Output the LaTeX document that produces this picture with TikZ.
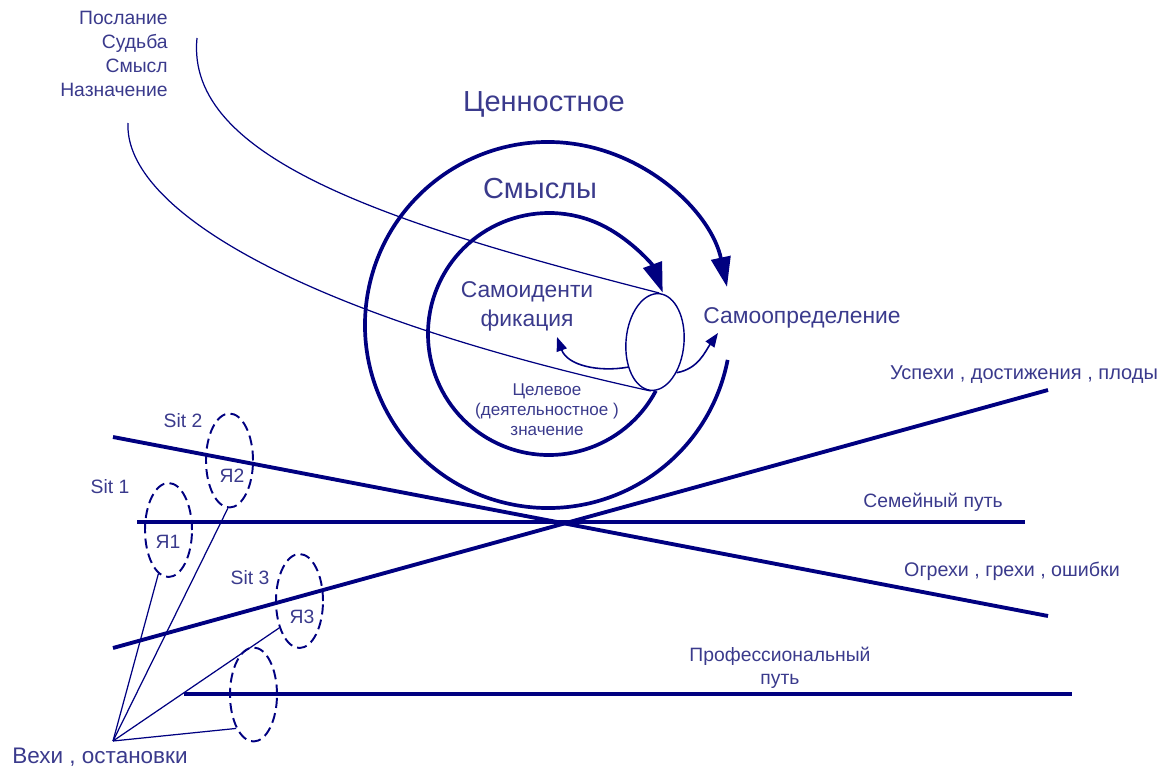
\documentclass[tikz,border=0pt]{standalone}
\usepackage{fontspec}
\setmainfont{Liberation Sans}
\usetikzlibrary{positioning,calc,arrows.meta,shapes.geometric}
\definecolor{pathblue}{RGB}{0,0,128}
\definecolor{inkblue}{RGB}{58,58,140}
\tikzset{
    every node/.style={font=\fontsize{11}{13.6}\selectfont, text=inkblue, inner sep=0pt},
    ring/.style={draw=pathblue, line width=2.1pt},
    pathline/.style={draw=pathblue, line width=2.2pt},
    thinline/.style={draw=pathblue, line width=0.7pt},
    sitcycle/.style={draw=pathblue, ellipse, dash pattern=on 5.7pt off 3pt, line width=1.1pt, minimum width=0.94cm, minimum height=1.88cm},
    bigarrow/.style={-{Triangle[length=17pt, width=11pt]}},
    smallarrow/.style={-{Triangle[length=8pt, width=6pt]}, draw=pathblue, line width=0.9pt},
}

\begin{document}
\begin{tikzpicture}[x=0.02cm, y=0.02cm]
   \useasboundingbox (0,0) rectangle (1173,769);
% two rings, both open on the right
   \coordinate (cO) at (548,444);
   \coordinate (cI) at (549,435);
   \draw[ring, bigarrow] ([shift={(-11:183)}]cO) arc[start angle=-11, end angle=-348, radius=183];
   \draw[ring, bigarrow] ([shift={(-28:121)}]cI) arc[start angle=-28, end angle=-340, radius=121];
   \node[font=\fontsize{16.5}{19}\selectfont] (value) at (544,665) {Ценностное};
   \node[font=\fontsize{16.5}{19}\selectfont] (sense) at (540,580) {Смыслы};
   \node[font=\fontsize{13}{16.4}\selectfont, align=center] (ident) at (527,463) {Самоиденти\\фикация};
   \node[font=\fontsize{13}{16}\selectfont] (determ) at (802,451) {Самоопределение};
   \node[font=\fontsize{9.7}{11.3}\selectfont, align=center] (goal) at (547,359) {Целевое\\(деятельностное )\\значение};
% lines from the upper left into the cylinder
   \node[anchor=east, align=right] (msg) at (168,715) {Послание\\Судьба\\Смысл\\Назначение};
   \coordinate (top1) at (197,731);
   \coordinate (top2) at (128,646);
   \node[draw=pathblue, line width=0.8pt, fill=white, ellipse, minimum width=1.16cm, minimum height=1.94cm, rotate=-5] (cyl) at (655,427) {};
   \draw[thinline] (top1) .. controls (185,610) and (390,545) .. (cyl.north);
   \draw[thinline] (top2) .. controls (124,560) and (300,455) .. (cyl.south);
   \coordinate (tipL) at (557,432);
   \coordinate (tipR) at (718,436);
   \draw[smallarrow] (cyl.228) to[out=190, in=-70] (tipL);
   \draw[smallarrow] (cyl.-50) to[out=10, in=235] (tipR);
% life paths
   \coordinate (ogr-l) at (113,332);
   \coordinate (ogr-r) at (1048,153);
   \coordinate (usp-l) at (113,121);
   \coordinate (usp-r) at (1048,379);
   \coordinate (fam-l) at (137,247);
   \coordinate (fam-r) at (1025,247);
   \coordinate (pro-l) at (184,75);
   \coordinate (pro-r) at (1072,75);
   \draw[pathline] (ogr-l) -- (ogr-r);
   \draw[pathline] (usp-l) -- (usp-r);
   \draw[pathline] (fam-l) -- (fam-r);
   \draw[pathline] (pro-l) -- (pro-r);
   \node[font=\fontsize{11.4}{13.6}\selectfont] (usp) at (1024,394) {Успехи , достижения , плоды};
   \node (fam) at (933,267) {Семейный путь};
   \node[font=\fontsize{11.2}{13.6}\selectfont] (ogr) at (1012,198) {Огрехи , грехи , ошибки};
   \node[align=center, font=\fontsize{11}{13}\selectfont] (pro) at (780,101) {Профессиональный\\путь};
% situations
   \node[sitcycle] (ya1) at (168.5,239) {};
   \node[sitcycle] (ya2) at (229.5,308.5) {};
   \node[sitcycle] (ya3) at (299.5,168) {};
   \node[sitcycle] (ya4) at (253.5,74.5) {};
   \node (ya1t) at (168,227) {Я1};
   \node (ya2t) at (232,293) {Я2};
   \node (ya3t) at (302,152) {Я3};
   \node (sit1) at (110,282) {Sit 1};
   \node (sit2) at (183,348) {Sit 2};
   \node (sit3) at (250,191) {Sit 3};
   \coordinate (hub) at (113,28);
   \node[font=\fontsize{12.8}{15}\selectfont] (vexi) at (100,12) {Вехи , остановки};
   \draw[thinline] (hub) -- (ya1.257);
   \draw[thinline] (hub) -- (ya2.268);
   \draw[thinline] (hub) -- (ya3.233);
   \draw[thinline] (hub) -- (ya4.243);
\end{tikzpicture}
\end{document}
